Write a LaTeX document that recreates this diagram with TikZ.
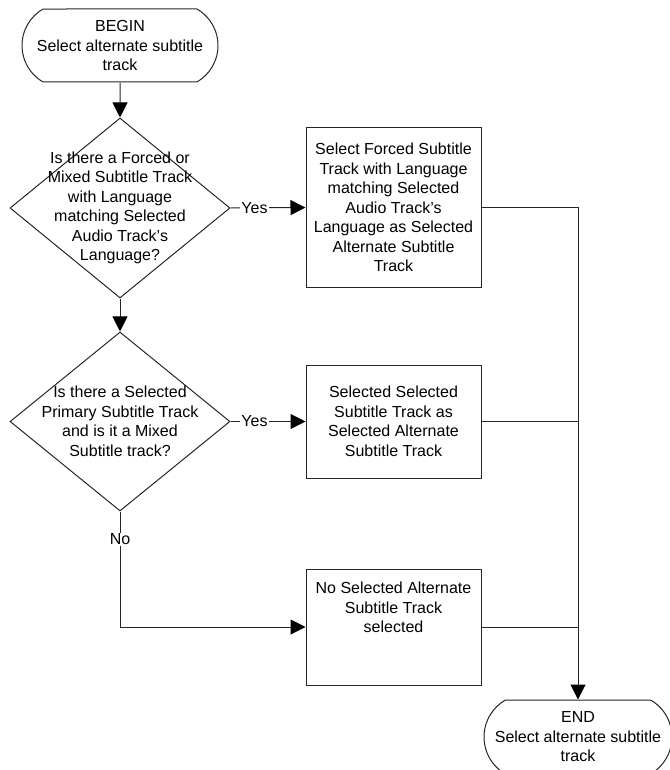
\documentclass[tikz,border=0pt]{standalone}
\usepackage{fontspec}
\setmainfont{Liberation Sans}
\usetikzlibrary{shapes.geometric,shapes.misc,arrows.meta}
\begin{document}
\begin{tikzpicture}[x=1pt,y=-1pt,
  every node/.style={font=\fontsize{16}{19.5}\selectfont, align=center},
  ln/.style={draw=black!85, line width=1pt},
  arr/.style={ln, -{Triangle[length=15pt,width=15pt,fill=black,color=black]}},
  term/.style={rounded rectangle, rounded rectangle arc length=120, draw=black!85, line width=1pt, minimum width=#1, minimum height=73pt, inner sep=0pt},
  dec/.style={diamond, draw=black!85, line width=1pt, minimum width=220pt, minimum height=180pt, inner sep=0pt},
  proc/.style={rectangle, draw=black!85, line width=1pt, minimum width=175pt, inner sep=0pt},
  lbl/.style={fill=white, inner sep=1pt}
]
\useasboundingbox (0,0) rectangle (669,770);
\node[term=196pt] (b) at (120,45.5) {BEGIN\\Select alternate subtitle\\track};
\node[dec] (d1) at (120,208) {};
\node (t1) at (120,208) {Is there a Forced or\\Mixed Subtitle Track\\with Language\\matching Selected\\Audio Track’s\\Language?};
\node[dec, minimum height=179pt] (d2) at (120,421.5) {};
\node (t2) at (120,421.5) {Is there a Selected\\Primary Subtitle Track\\and is it a Mixed\\Subtitle track?};
\node[proc, minimum height=159pt] (p1) at (393.5,207.5) {Select Forced Subtitle\\Track with Language\\matching Selected\\Audio Track’s\\Language as Selected\\Alternate Subtitle\\Track};
\node[proc, minimum height=113pt] (p2) at (393.5,421.5) {Selected Selected\\Subtitle Track as\\Selected Alternate\\Subtitle Track};
\node[proc, minimum height=116pt] (p3) at (393.5,627) {No Selected Alternate\\Subtitle Track\\selected\\[19.5pt]};
\node[term=188pt, minimum height=74pt] (e) at (578,737) {END\\Select alternate subtitle\\track};
\draw[arr] (b) -- (d1);
\draw[arr] (d1) -- (d2);
\draw[arr] (d1.east) -- node[lbl, pos=0.32] {Yes} (p1.west);
\draw[arr] (d2.east) -- node[lbl, pos=0.32] {Yes} (p2.west);
\draw[arr] (d2.south) |- node[lbl, pos=0.12] {No} (p3.west);
\draw[arr] (p1.east) -| (e.north);
\draw[ln] (p2.east) -- (p2.east -| e.north);
\draw[ln] (p3.east) -- (p3.east -| e.north);
\end{tikzpicture}
\end{document}
